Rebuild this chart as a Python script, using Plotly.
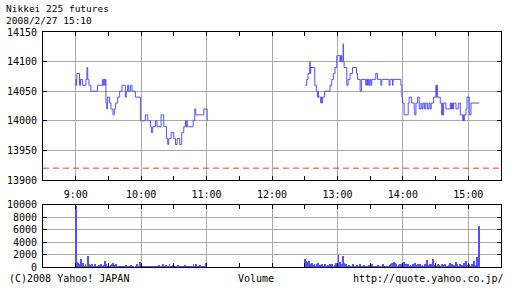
import plotly.graph_objects as go

# ---------------- data ----------------
title_line1 = "Nikkei 225 futures"
title_line2 = "2008/2/27 15:10"
prev_close = 13920

# price changes: minutes after 9:00, price (step line)
am_t = [0, 0.3, 0.6, 0.9, 1.1, 3.5, 4.4, 6.3, 9.4, 10.3, 11.0, 12.1, 13.9, 20.0,
        24.6, 25.3, 26.0, 26.7, 27.3, 27.7, 28.5, 29.0, 29.3, 31.1, 32.3, 34.2,
        35.4, 36.6, 38.5, 40.3, 42.4, 45.5, 46.4, 47.6, 48.6, 50.1, 51.6, 54.7,
        59.3, 63.9, 66.0, 68.5, 69.4, 70.6, 73.1, 74.6, 78.3, 80.7, 83.2, 84.4,
        85.3, 87.5, 89.9, 91.5, 93.0, 95.4, 97.2, 99.1, 100.6, 101.2, 101.8,
        102.2, 107.7, 109.2, 110.1, 117.5, 120.5]
am_p = [14060, 14070, 14060, 14070, 14080, 14060, 14070, 14060, 14070, 14090, 14070, 14060, 14050, 14060,
        14070, 14060, 14070, 14060, 14070, 14030, 14020, 14030, 14040, 14030, 14020, 14010,
        14020, 14030, 14040, 14050, 14060, 14040, 14050, 14060, 14050, 14060, 14050, 14040,
        14000, 14010, 14000, 13990, 13980, 13990, 14000, 13990, 14010, 13990, 13970, 13960,
        13970, 13980, 13970, 13960, 13970, 13960, 13980, 13990, 14000, 13990, 14000,
        13990, 14000, 14020, 14010, 14020, 14000]

pm_t = [210.3, 211.8, 213.0, 214.6, 215.0, 215.5, 219.2, 220.7, 221.6, 222.2, 222.6,
        223.1, 224.7, 225.2, 225.6, 226.2, 228.3, 233.2, 234.8, 236.3, 237.8, 239.4,
        242.4, 242.8, 243.2, 243.6, 244.0, 245.2, 245.6, 246.1, 248.6, 249.8, 251.6,
        253.8, 257.5, 258.4, 260.8, 262.0, 266.0, 266.6, 267.6, 268.3, 269.1, 269.7,
        270.6, 271.5, 275.2, 276.8, 279.8, 280.7, 287.4, 288.3, 290.5, 291.0, 298.2,
        299.1, 299.7, 301.2, 304.9, 305.8, 308.0, 310.4, 310.9, 312.0, 313.5, 315.0,
        316.6, 317.5, 318.5, 320.0, 321.0, 322.5, 324.0, 325.0, 326.0, 328.2, 330.3,
        330.8, 331.2, 331.6, 334.3, 335.6, 336.0, 336.5, 337.4, 339.5, 343.5, 344.0,
        344.5, 345.0, 345.5, 346.0, 346.5, 348.7, 350.8, 352.7, 354.9, 355.5, 356.0,
        356.3, 357.9, 358.8, 360.9, 362.5, 370.1]
pm_p = [14060, 14070, 14080, 14100, 14080, 14090, 14060, 14050, 14040, 14050, 14040,
        14040, 14030, 14040, 14030, 14040, 14050, 14060, 14070, 14080, 14090, 14110,
        14100, 14110, 14100, 14110, 14100, 14130, 14100, 14090, 14060, 14070, 14080,
        14090, 14080, 14070, 14050, 14070, 14060, 14070, 14060, 14070, 14060, 14070,
        14060, 14070, 14080, 14070, 14060, 14070, 14060, 14070, 14060, 14070, 14060,
        14040, 14030, 14010, 14030, 14040, 14030, 14020, 14010, 14030, 14040, 14020,
        14030, 14020, 14030, 14020, 14030, 14020, 14030, 14020, 14030, 14040, 14060,
        14040, 14060, 14040, 14030, 14010, 14030, 14010, 14030, 14020, 14030, 14020,
        14030, 14020, 14030, 14020, 14030, 14020, 14030, 14010, 14000, 14010, 14000,
        14010, 14020, 14040, 14010, 14030, 14030]

# volume per minute
am_vol = [9800,
          900, 800, 600, 500, 1400, 300, 700, 200, 500, 300,
          1900, 500, 400, 300, 500, 200, 100, 600, 300, 200,
          400, 0, 600, 200, 300, 400, 1100, 500, 300, 200,
          100, 400, 600, 800, 300, 400, 500, 200, 300, 200,
          100, 200, 100, 300, 200, 400, 100, 200, 300, 100,
          400, 200, 100, 0, 300, 500, 200, 100, 900, 500,
          200, 100, 200, 100, 200, 300, 200, 100, 300, 200,
          100, 200, 300, 100, 200, 400, 100, 300, 200, 500,
          200, 100, 400, 300, 200, 500, 100, 300, 400, 200,
          100, 300, 200, 400, 100, 200, 300, 100, 200, 400,
          200, 100, 300, 200, 100, 200, 300, 500, 200, 600,
          300, 100, 200, 400, 100, 200, 300, 200, 800, 0]
pm_vol = [1400, 1100, 600, 900, 1000, 500, 300, 800, 400, 600,
          300, 500, 700, 200, 400, 300, 600, 200, 300, 500,
          200, 400, 300, 600, 200, 500, 300, 200, 400, 700,
          300, 2000, 900, 600, 500, 1900, 700, 400, 600, 300,
          200, 400, 100, 300, 500, 200, 300, 100, 400, 200,
          300, 500, 200, 100, 400, 200, 300, 100, 200, 400,
          300, 200, 500, 100, 300, 200, 100, 400, 200, 300,
          100, 200, 500, 300, 200, 100, 300, 200, 400, 600,
          800, 400, 900, 700, 500, 300, 400, 600, 200, 500,
          300, 900, 400, 500, 200, 600, 300, 400, 200, 500,
          300, 700, 400, 200, 500, 300, 600, 200, 400, 300,
          500, 300, 1200, 400, 300, 600, 200, 500, 1300, 400,
          300, 200, 600, 400, 300, 200, 500, 300, 400, 600,
          300, 200, 400, 700, 300, 500, 200, 400, 300, 900,
          500, 300, 600, 200, 400, 300, 800, 500, 1100, 400,
          300, 600, 200, 500, 300, 1100, 400, 300, 1700, 200,
          6600]
am_vol_start = 0      # 9:00
pm_vol_start = 210    # 12:30

hour_ticks = [0, 60, 120, 180, 240, 300, 360]
hour_labels = ["9:00", "10:00", "11:00", "12:00", "13:00", "14:00", "15:00"]
price_ticks = [13900, 13950, 14000, 14050, 14100, 14150]
vol_ticks = [0, 2000, 4000, 6000, 8000, 10000]

# ---------------- styling ----------------
W, H = 512, 288
FONT = "DejaVu Sans Mono"
BLUE = "#5050ff"
GRID = "#a8a8a8"
x_dom = [43 / W, 501 / W]
price_dom = [(H - 180) / H, (H - 32) / H]
vol_dom = [(H - 267) / H, (H - 204.5) / H]

fig = go.Figure()
fig.add_trace(go.Scatter(x=am_t, y=am_p, mode="lines", line=dict(color=BLUE, width=1, shape="hv"),
                         xaxis="x", yaxis="y", showlegend=False))
fig.add_trace(go.Scatter(x=pm_t, y=pm_p, mode="lines", line=dict(color=BLUE, width=1, shape="hv"),
                         xaxis="x", yaxis="y", showlegend=False))
fig.add_trace(go.Bar(x=[am_vol_start + i for i in range(len(am_vol))] +
                       [pm_vol_start + i for i in range(len(pm_vol))],
                     y=am_vol + pm_vol, width=0.85, marker=dict(color=BLUE, line=dict(width=0)),
                     xaxis="x2", yaxis="y2", showlegend=False))

fig.add_shape(type="line", xref="x domain", yref="y", x0=0, x1=1, y0=prev_close, y1=prev_close,
              line=dict(color="#ff3030", width=1, dash="6px,4px"))

common_x = dict(range=[-30, 390], domain=x_dom, tickmode="array", tickvals=hour_ticks,
                showgrid=True, gridcolor=GRID, gridwidth=1, zeroline=False,
                showline=True, linecolor="black", linewidth=1, mirror="ticks",
                ticks="inside", ticklen=4, tickcolor="black", automargin=False,
                minor=dict(dtick=30, tick0=-30, ticks="inside", ticklen=4, tickcolor="black", showgrid=False),
                tickfont=dict(family=FONT, size=10, color="black"), fixedrange=True)
common_y = dict(showgrid=True, gridcolor=GRID, gridwidth=1, zeroline=False,
                showline=True, linecolor="black", linewidth=1, mirror="ticks",
                ticks="inside", ticklen=4, tickcolor="black", automargin=False,
                tickfont=dict(family=FONT, size=10, color="black"), ticklabelstandoff=3,
                fixedrange=True)

small = dict(family=FONT, size=10, color="black")
fig.update_layout(
    width=W, height=H, margin=dict(l=0, r=0, t=0, b=0, pad=0, autoexpand=False),
    paper_bgcolor="white", plot_bgcolor="white", bargap=0,
    xaxis=dict(common_x, anchor="y", ticktext=hour_labels, ticklabelstandoff=5),
    yaxis=dict(common_y, domain=price_dom, range=[13900, 14150], tickvals=price_ticks,
               ticktext=[str(v) for v in price_ticks], anchor="x"),
    xaxis2=dict(common_x, anchor="y2", showticklabels=False),
    yaxis2=dict(common_y, domain=vol_dom, range=[0, 10000], tickvals=vol_ticks,
                ticktext=[str(v) for v in vol_ticks], anchor="x2"),
    annotations=[
        dict(text=title_line1, x=4 / W, y=1 - 8.5 / H, xref="paper", yref="paper",
             xanchor="left", yanchor="middle", showarrow=False,
             font=dict(family=FONT, size=9.5, color="black")),
        dict(text=title_line2, x=4 / W, y=1 - 20.5 / H, xref="paper", yref="paper",
             xanchor="left", yanchor="middle", showarrow=False,
             font=dict(family=FONT, size=9.5, color="black")),
        dict(text="(C)2008 Yahoo! JAPAN", x=7 / W, y=(H - 278) / H, xref="paper", yref="paper",
             xanchor="left", yanchor="middle", showarrow=False, font=small),
        dict(text="Volume", x=255.5 / W, y=(H - 278) / H, xref="paper", yref="paper",
             xanchor="center", yanchor="middle", showarrow=False, font=small),
        dict(text="http://quote.yahoo.co.jp/", x=506 / W, y=(H - 278) / H, xref="paper", yref="paper",
             xanchor="right", yanchor="middle", showarrow=False, font=small),
    ],
)

fig.write_html("out.html")
